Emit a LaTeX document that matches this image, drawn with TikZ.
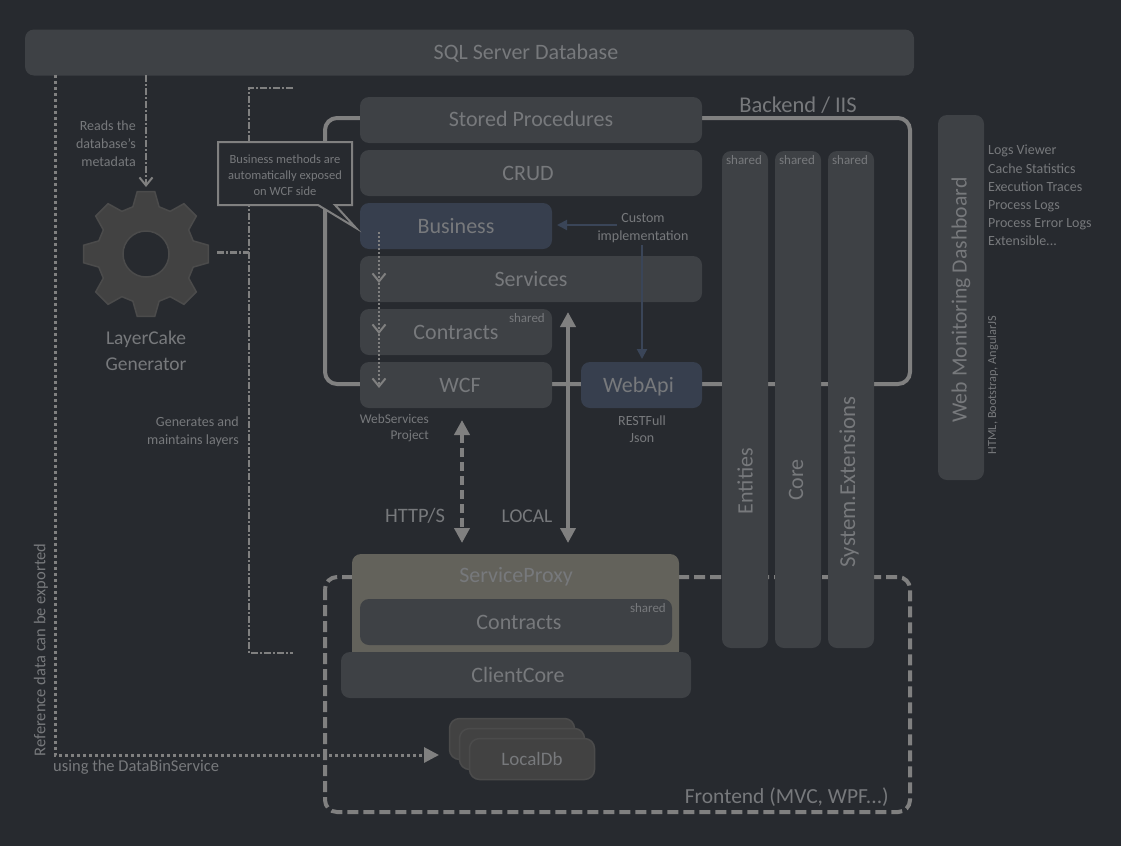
\documentclass[tikz,border=0pt]{standalone}
\usepackage{fontspec}
\setmainfont{Carlito}
\usetikzlibrary{arrows.meta}
\definecolor{bgdark}{HTML}{272A2F}
\definecolor{boxgrey}{HTML}{3E4145}
\definecolor{boxblue}{HTML}{373F4E}
\definecolor{proxygrey}{HTML}{63625B}
\definecolor{gearfill}{HTML}{424242}
\definecolor{gearline}{HTML}{4B4B4B}
\definecolor{linegrey}{HTML}{808080}
\definecolor{textgrey}{HTML}{77797C}
\definecolor{arrowblue}{HTML}{3A4558}
\tikzset{
	layerbox/.style={fill=boxgrey, rounded corners=9pt, inner sep=0pt, minimum height=46pt, text=textgrey, font=\fontsize{22}{22}\selectfont, text height=16pt, text depth=2pt},
	bluebox/.style={layerbox, fill=boxblue},
	sidebox/.style={fill=boxgrey, rounded corners=9pt, inner sep=0pt, minimum width=46pt},
	dbbox/.style={fill=gearfill, draw=gearline, line width=1.5pt, rounded corners=10pt, inner sep=0pt, minimum width=125pt, minimum height=41pt, text=textgrey, font=\fontsize{19}{19}\selectfont},
	smalltext/.style={text=textgrey, inner sep=0pt, font=\fontsize{14}{18}\selectfont},
	tinytext/.style={text=textgrey, inner sep=0pt, font=\fontsize{13}{16}\selectfont},
	midtext/.style={text=textgrey, inner sep=0pt, font=\fontsize{19.5}{26}\selectfont},
	bigtext/.style={text=textgrey, inner sep=0pt, font=\fontsize{22}{22}\selectfont},
	frameline/.style={draw=linegrey, line width=4pt, rounded corners=12pt},
	dotline/.style={draw=linegrey, line width=3pt, dash pattern=on 3pt off 3pt},
	thinline/.style={draw=linegrey, line width=2.5pt, dash pattern=on 7pt off 2pt on 2pt off 2pt},
	fattip/.style={{Triangle[length=15pt,width=15pt]}-{Triangle[length=15pt,width=15pt]}, draw=linegrey, line width=4pt},
	opentip/.style={-{Straight Barb[length=8pt,width=13pt,line width=2pt]}},
	bluearrow/.style={draw=arrowblue, line width=2pt, -{Triangle[length=10pt,width=10pt]}}
}
\begin{document}
\begin{tikzpicture}[x=1pt, y=-1pt]
	%%%%% BACKGROUND %%%%%
	\fill[bgdark] (0,0) rectangle (1121,846);
	\useasboundingbox (0,0) rectangle (1121,846);

	\draw[frameline] (325,118) rectangle (910,384);
	\draw[frameline, dash pattern=on 11pt off 5pt] (325,577) rectangle (910,812);

	\node[layerbox, minimum width=889pt] (database) at (469.5,52.5) {\kern113pt SQL Server Database};

	%%%%% GENERATOR %%%%%
	\coordinate (gearcenter) at (146,254);
	\gdef\gearpath{}
	\foreach \a in {90,135,180,225,270,315,360,405} {
		\xdef\gearpath{\gearpath -- ({\a-15.5}:49) -- ({\a-8}:63) -- ({\a+8}:63) -- ({\a+15.5}:49)}
	}
	\draw[fill=gearfill, draw=gearline, line width=1.5pt, shift={(gearcenter)}] (74.5:49) \gearpath -- cycle;
	\draw[fill=bgdark, draw=gearline, line width=1.5pt] (gearcenter) circle (23);
	\node[midtext, align=center] (gearlabel) at (146,351) {LayerCake\\Generator};

	\coordinate (readstart) at (146,75);
	\coordinate (readend) at (146,187);
	\draw[thinline, opentip] (readstart) -- (readend);
	\node[smalltext, align=right, anchor=east] (readlabel) at (136,143.5) {Reads the\\database's\\metadata};

	\coordinate (geartop) at (293,88);
	\coordinate (gearcorner) at (249,88);
	\coordinate (gearbottom) at (249,653);
	\coordinate (gearend) at (293,653);
	\coordinate (gearside) at (217,252.5);
	\coordinate (gearjoin) at (249,252.5);
	\draw[thinline] (geartop) -- (gearcorner) -- (gearbottom) -- (gearend);
	\draw[thinline] (gearside) -- (gearjoin);
	\node[smalltext, align=right, anchor=east] (generateslabel) at (239,432) {Generates and\\maintains layers};

	%%%%% BACKEND %%%%%
	\node[layerbox, minimum width=342pt] (stored) at (531,120) {\raisebox{1pt}{Stored Procedures}};
	\node[layerbox, minimum width=342pt] (crud) at (531,173) {\kern-6pt CRUD};
	\node[bluebox, minimum width=192pt] (business) at (456,226) {Business};
	\node[layerbox, minimum width=342pt] (services) at (531,279) {Services};
	\node[layerbox, minimum width=192pt] (contracts) at (456,332) {Contracts};
	\node[layerbox, minimum width=192pt] (wcf) at (456,385) {\kern8pt WCF};
	\node[bluebox, minimum width=121pt] (webapi) at (641.5,385) {\kern-6pt WebApi};

	\node[tinytext, anchor=east] (contractshared) at (545,318) {shared};
	\node[tinytext, align=right, anchor=east, font=\fontsize{13.3}{16}\selectfont] (wcfnote) at (429,428) {WebServices\\Project};
	\node[tinytext, align=center, font=\fontsize{14}{17}\selectfont] (webapinote) at (642,429) {RESTFull\\Json};
	\node[bigtext, font=\fontsize{22.5}{22.5}\selectfont] (backendlabel) at (798,105) {Backend / IIS};

	\coordinate (dotstart) at (379,232);
	\coordinate (dotone) at (379,283);
	\coordinate (dottwo) at (379,334);
	\coordinate (dotthree) at (379,388);
	\draw[dotline, line width=2pt, dash pattern=on 2pt off 2pt, opentip] (dotstart) -- (dotone);
	\draw[dotline, line width=2pt, dash pattern=on 2pt off 2pt, opentip] (dotone) -- (dottwo);
	\draw[dotline, line width=2pt, dash pattern=on 2pt off 2pt, opentip] (dottwo) -- (dotthree);

	\node[smalltext, align=center] (customlabel) at (643,228) {Custom\\implementation};
	\coordinate (customleft) at (617,225);
	\coordinate (customtip) at (557,225);
	\coordinate (customdown) at (642,245);
	\coordinate (customend) at (642,359);
	\draw[bluearrow] (customleft) -- (customtip);
	\draw[bluearrow] (customdown) -- (customend);

	%%%%% SHARED COLUMNS %%%%%
	\node[sidebox, minimum height=497pt] (entities) at (745,399.5) {};
	\node[sidebox, minimum height=497pt] (core) at (798,399.5) {};
	\node[sidebox, minimum height=497pt] (extensions) at (851,399.5) {};
	\node[tinytext] (entitiesshared) at (744,160) {shared};
	\node[tinytext] (coreshared) at (797,160) {shared};
	\node[tinytext] (extensionsshared) at (850,160) {shared};
	\node[bigtext, rotate=90] (entitieslabel) at (745,481) {Entities};
	\node[bigtext, rotate=90] (corelabel) at (796,480) {Core};
	\node[bigtext, rotate=90, font=\fontsize{22.8}{22.8}\selectfont] (extensionslabel) at (849,482) {System.Extensions};

	%%%%% DASHBOARD %%%%%
	\node[sidebox, minimum height=365pt] (dashboard) at (961,297.5) {};
	\node[bigtext, rotate=90, font=\fontsize{21.7}{21.7}\selectfont] (dashboardlabel) at (961,300) {Web Monitoring Dashboard};
	\node[smalltext, anchor=north west, align=left, font=\fontsize{14}{18.2}\selectfont] (features) at (988,145) {Logs Viewer\\Cache Statistics\\Execution Traces\\Process Logs\\Process Error Logs\\Extensible...};
	\node[tinytext, rotate=90, font=\fontsize{12.3}{12.3}\selectfont] (stacklabel) at (993,385) {HTML, Bootstrap, AngularJS};

	%%%%% FRONTEND %%%%%
	\node[fill=proxygrey, rounded corners=9pt, inner sep=0pt, minimum width=327pt, minimum height=106pt] (proxy) at (515.5,607) {};
	\node[bigtext, text=textgrey] (proxylabel) at (516,577) {ServiceProxy};
	\node[layerbox, minimum width=312pt] (proxycontracts) at (516,622) {\kern6pt Contracts};
	\node[tinytext, anchor=east] (proxyshared) at (666,608) {shared};
	\node[layerbox, minimum width=350pt] (clientcore) at (516,675) {\kern4pt ClientCore};

	\node[dbbox] (dbback) at (512,739) {};
	\node[dbbox] (dbmiddle) at (522,749) {};
	\node[dbbox] (localdb) at (532,759) {LocalDb};
	\node[bigtext, anchor=east, font=\fontsize{21.5}{21.5}\selectfont] (frontendlabel) at (889,797) {Frontend (MVC, WPF...)};

	\coordinate (httptop) at (462,420);
	\coordinate (httpbottom) at (462,543);
	\coordinate (localtop) at (568,312);
	\coordinate (localbottom) at (568,543);
	\draw[fattip, dash pattern=on 9pt off 5pt] (httptop) -- (httpbottom);
	\draw[fattip] (localtop) -- (localbottom);
	\node[midtext, font=\fontsize{20.5}{26}\selectfont] (httplabel) at (415,516) {HTTP/S};
	\node[midtext] (locallabel) at (527,516) {LOCAL};

	%%%%% DATABIN %%%%%
	\coordinate (binstart) at (55,75);
	\coordinate (bincorner) at (55,755);
	\coordinate (binend) at (439,755);
	\draw[dotline, -{Triangle[length=15pt,width=15pt]}] (binstart) -- (bincorner) -- (binend);
	\node[smalltext, rotate=90, font=\fontsize{16.5}{16.5}\selectfont] (exportlabel) at (41,650) {Reference data can be exported};
	\node[smalltext, anchor=west, font=\fontsize{16.5}{16.5}\selectfont] (binlabel) at (53,767) {using the DataBinService};

	%%%%% CALLOUT %%%%%
	\draw[fill=bgdark, draw=linegrey, line width=2pt] (218,142) -- (352,142) -- (352,205) -- (335,205) -- (356,228) -- (318,205) -- (218,205) -- cycle;
	\node[tinytext, align=center, font=\fontsize{12.5}{16}\selectfont] (calloutlabel) at (285,175) {Business methods are\\automatically exposed\\on WCF side};
	%%%%% END %%%%%
\end{tikzpicture}
\end{document}
